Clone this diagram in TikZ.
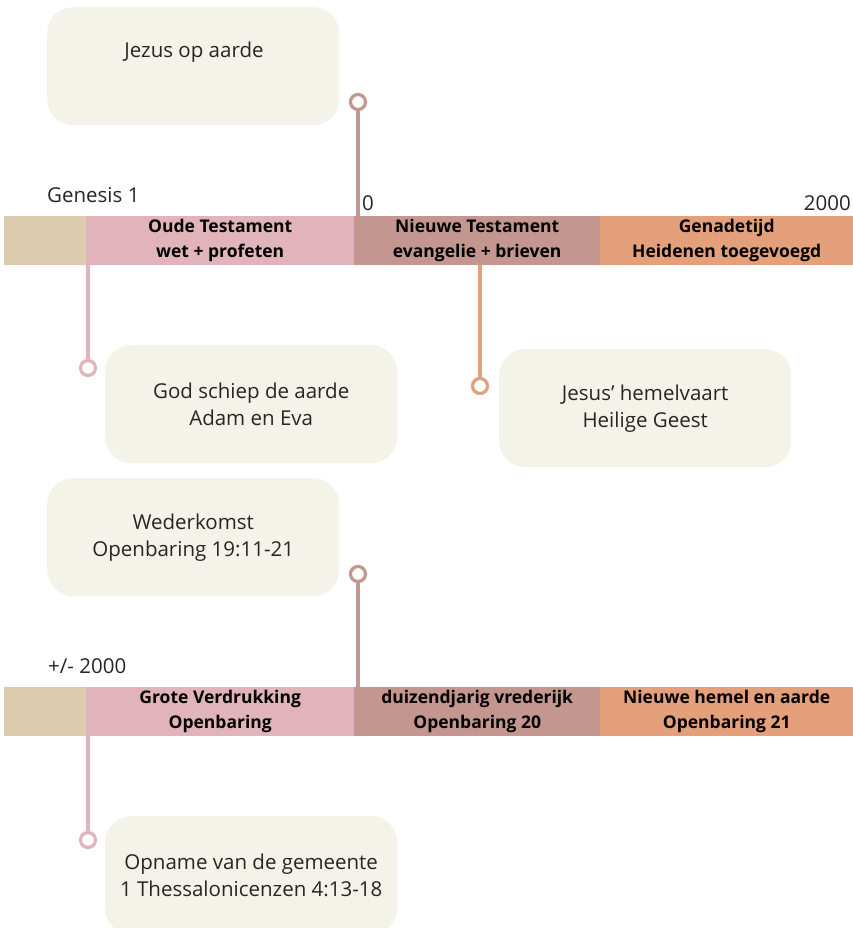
\documentclass[tikz,border=0pt]{standalone}
\usepackage{fontspec}
\setmainfont{Open Sans}
\definecolor{cbeige}{HTML}{DCCBAE}
\definecolor{cpink}{HTML}{E0B4BA}
\definecolor{cmauve}{HTML}{C3968F}
\definecolor{corange}{HTML}{E4A07B}
\definecolor{cbox}{HTML}{F4F3E9}
\begin{document}
\begin{tikzpicture}[x=1pt,y=-1pt,
  seg/.style={rectangle,anchor=north west,inner sep=0pt,minimum height=49pt,align=center,
    font=\fontsize{17.5}{25}\selectfont\bfseries,text=black},
  card/.style={rectangle,rounded corners=26pt,fill=cbox,anchor=north west,inner sep=0pt,
    minimum width=292pt,minimum height=118pt,align=center,font=\fontsize{20.5}{27}\selectfont,text=black!85},
  lbl/.style={anchor=base west,inner sep=0pt,font=\fontsize{20.5}{23}\selectfont,text=black!85},
  pin/.style={circle,draw=#1,line width=3.2pt,fill=white,minimum size=15pt,inner sep=0pt},
  stem/.style={draw=#1,line width=3.2pt}
]
\useasboundingbox (0,0) rectangle (853,928);
\fill[white] (0,0) rectangle (853,928);

% ---------- top timeline ----------
\node[seg,fill=cbeige,minimum width=82pt] (a0) at (4,216) {};
\node[seg,fill=cpink,minimum width=268pt] (a1) at (86,216) {Oude Testament\\wet + profeten};
\node[seg,fill=cmauve,minimum width=246pt] (a2) at (354,216) {Nieuwe Testament\\evangelie + brieven};
\node[seg,fill=corange,minimum width=253pt] (a3) at (600,216) {Genadetijd\\Heidenen toegevoegd};

\node[lbl] (g1) at (47,202) {Genesis 1};
\node[lbl] (z0) at (362,210) {0};
\node[lbl,anchor=base east] (y2k) at (851,210) {2000};

% cards
\node[card] (jez) at (47,7) {};
\node[font=\fontsize{20.5}{27}\selectfont,text=black!85] (jezt) at (194,52) {Jezus op aarde};
\node[card] (god) at (105,345) {God schiep de aarde\\Adam en Eva};
\node[card] (hem) at (499,349) {Jesus’ hemelvaart\\Heilige Geest};

% pins
\coordinate (p1) at (358,102);
\coordinate (p2) at (88,368);
\coordinate (p3) at (480,386);
\draw[stem=cmauve] (p1) -- (p1 |- a2.north);
\draw[stem=cpink] (p2) -- (p2 |- a1.south);
\draw[stem=corange] (p3) -- (p3 |- a2.south);
\node[pin=cmauve] (q1) at (p1) {};
\node[pin=cpink] (q2) at (p2) {};
\node[pin=corange] (q3) at (p3) {};

% ---------- bottom timeline ----------
\node[seg,fill=cbeige,minimum width=82pt] (b0) at (4,687) {};
\node[seg,fill=cpink,minimum width=268pt] (b1) at (86,687) {Grote Verdrukking\\Openbaring};
\node[seg,fill=cmauve,minimum width=246pt] (b2) at (354,687) {duizendjarig vrederijk\\Openbaring 20};
\node[seg,fill=corange,minimum width=253pt] (b3) at (600,687) {Nieuwe hemel en aarde\\Openbaring 21};

\node[lbl] (pm) at (48,673) {+/- 2000};

\node[card] (wed) at (47,478) {Wederkomst\\Openbaring 19:11-21};
\node[card] (opn) at (105,816) {Opname van de gemeente\\1 Thessalonicenzen 4:13-18};

\coordinate (p4) at (358,574);
\coordinate (p5) at (88,840);
\draw[stem=cmauve] (p4) -- (p4 |- b2.north);
\draw[stem=cpink] (p5) -- (p5 |- b1.south);
\node[pin=cmauve] (q4) at (p4) {};
\node[pin=cpink] (q5) at (p5) {};
\end{tikzpicture}
\end{document}
